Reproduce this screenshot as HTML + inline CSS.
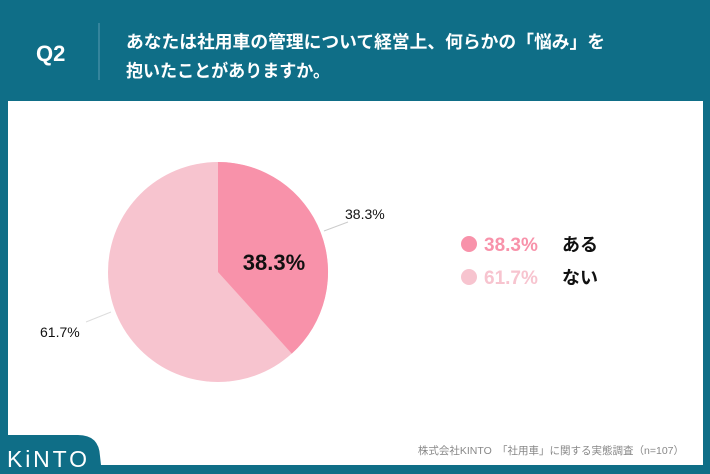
<!DOCTYPE html>
<html><head><meta charset="utf-8"><style>
body{margin:0;width:710px;height:474px;overflow:hidden;background:#0f6e87;font-family:"Liberation Sans","Noto Sans CJK JP",sans-serif;}
</style></head><body>
<svg width="710" height="474" xmlns="http://www.w3.org/2000/svg" style="position:absolute;left:0;top:0">
<rect width="710" height="474" fill="#0f6e87"/>
<rect x="8" y="101" width="695" height="364" fill="#ffffff"/>
<line x1="99" y1="23" x2="99" y2="80" stroke="#5a9bb0" stroke-width="1"/>
<text x="36" y="61" font-size="22" font-weight="bold" fill="#fff" font-family="Liberation Sans, sans-serif">Q2</text>
<text x="126" y="48" font-size="17.5" font-weight="bold" fill="#fff" textLength="479" lengthAdjust="spacingAndGlyphs" font-family="Liberation Sans, Noto Sans CJK JP, sans-serif">あなたは社用車の管理について経営上、何らかの「悩み」を</text>
<text x="126" y="77" font-size="17.5" font-weight="bold" fill="#fff" textLength="204" lengthAdjust="spacingAndGlyphs" font-family="Liberation Sans, Noto Sans CJK JP, sans-serif">抱いたことがありますか。</text>
<circle cx="218" cy="272" r="110" fill="#f7c4cf"/>
<path d="M218,272 L218,162 A110,110 0 0 1 291.8,353.6 Z" fill="#f892aa"/>
<text x="274" y="270" font-size="22" font-weight="bold" fill="#111" text-anchor="middle" font-family="Liberation Sans, sans-serif">38.3%</text>
<line x1="324" y1="231" x2="348" y2="222" stroke="#ccc" stroke-width="1"/>
<text x="345" y="219" font-size="14" fill="#111" font-family="Liberation Sans, sans-serif">38.3%</text>
<line x1="86" y1="322" x2="111" y2="312" stroke="#ddd" stroke-width="1"/>
<text x="40" y="337" font-size="14" fill="#111" font-family="Liberation Sans, sans-serif">61.7%</text>
<circle cx="469" cy="244" r="8" fill="#f892aa"/>
<text x="484" y="251" font-size="19" font-weight="bold" fill="#f892aa" font-family="Liberation Sans, sans-serif">38.3%</text>
<text x="562" y="251" font-size="18" font-weight="bold" fill="#111" font-family="Liberation Sans, Noto Sans CJK JP, sans-serif">ある</text>
<circle cx="469" cy="277" r="8" fill="#f7c4cf"/>
<text x="484" y="284" font-size="19" font-weight="bold" fill="#f7c4cf" font-family="Liberation Sans, sans-serif">61.7%</text>
<text x="562" y="284" font-size="18" font-weight="bold" fill="#111" font-family="Liberation Sans, Noto Sans CJK JP, sans-serif">ない</text>
<text x="684" y="454" font-size="10.5" fill="#888" text-anchor="end" font-family="Liberation Sans, Noto Sans CJK JP, sans-serif">株式会社KINTO　「社用車」に関する実態調査（n=107）</text>
<path d="M0,435 L78,435 Q99,435 100,456 L101,465 L0,465 Z" fill="#0f6e87"/>
<text x="7" y="467" font-size="23" fill="#fff" textLength="80" lengthAdjust="spacing" font-family="Liberation Sans, sans-serif">KiNTO</text>
</svg>
</body></html>
